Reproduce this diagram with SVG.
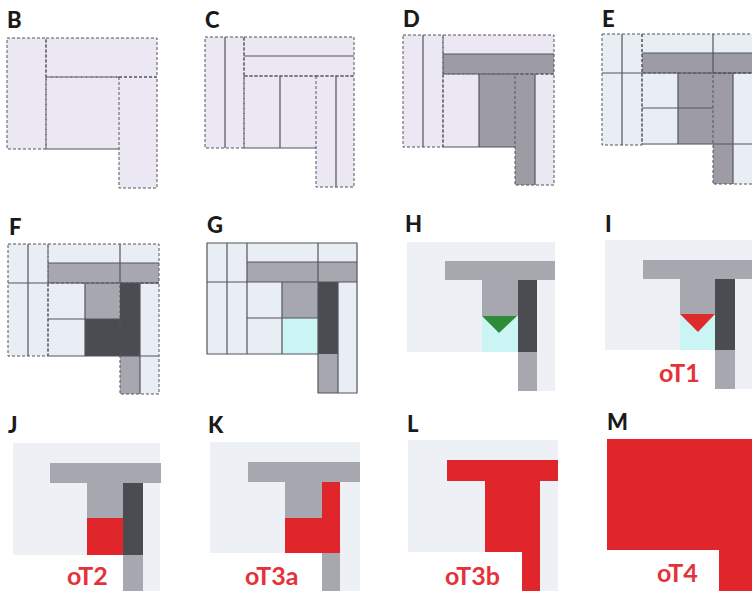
<svg xmlns="http://www.w3.org/2000/svg" width="752" height="591" viewBox="0 0 752 591">
<defs>
<style>
.lbl{font-family:Lato,"Open Sans","Liberation Sans",sans-serif;font-weight:900;font-size:22px;fill:#1a1a1a}
.red{font-family:Lato,"Open Sans","Liberation Sans",sans-serif;font-weight:700;font-size:25px;fill:#e5323a}
.bgp{fill:#ebe8f3}
.bgb{fill:#e9eef4}
.bgl{fill:#edf1f6}
.g{fill:#9d9ca4}
.g2{fill:#a7a7af}
.dk{fill:#4b4b52}
.cy{fill:#cbf5f5}
.rd{fill:#e0262b}
.d{fill:none;stroke:#55555c;stroke-width:1;stroke-dasharray:3 2}
.s{fill:none;stroke:#55555c;stroke-width:1.2}
</style>
</defs>
<rect width="752" height="591" fill="#ffffff"/>

<g id="panelB">
<text class="lbl" x="7" y="28">B</text>
<rect class="bgp" x="7" y="38" width="150" height="111"/>
<rect class="bgp" x="119" y="77" width="38" height="111"/>
<rect class="d" x="7" y="38" width="39" height="111"/>
<rect class="d" x="46" y="38" width="111" height="39"/>
<path class="d" d="M46,77 V149 M46,77 H119"/>
<path class="s" d="M46,149 H119"/>
<rect class="d" x="119" y="77" width="38" height="111"/>
</g>

<g id="panelC">
<text class="lbl" x="205" y="28">C</text>
<rect class="bgp" x="205" y="37" width="149" height="111"/>
<rect class="bgp" x="316" y="76" width="38" height="111"/>
<rect class="d" x="205" y="37" width="39" height="111"/>
<rect class="d" x="244" y="37" width="110" height="39"/>
<path class="d" d="M244,76 V148 M244,76 H316"/>
<rect class="d" x="316" y="76" width="38" height="111"/>
<path class="s" d="M225,37 V148 M244,56 H354 M244,148 H316 M280,76 V148 M336,76 V187"/>
</g>

<g id="panelD">
<text class="lbl" x="403" y="27">D</text>
<rect class="bgp" x="403" y="35" width="151" height="112"/>
<rect class="bgp" x="515" y="74" width="39" height="111"/>
<rect class="g" x="443" y="54" width="111" height="20"/>
<rect class="g" x="479" y="74" width="36" height="73"/>
<rect class="g" x="515" y="74" width="20" height="111"/>
<rect class="d" x="403" y="35" width="40" height="112"/>
<rect class="d" x="443" y="35" width="111" height="39"/>
<path class="d" d="M443,74 V147 M443,74 H515"/>
<rect class="d" x="515" y="74" width="39" height="111"/>
<path class="s" d="M423,35 V147 M443,54 H554 M443,147 H515 M479,74 V147 M535,74 V185"/>
</g>

<g id="panelE">
<text class="lbl" x="602" y="27">E</text>
<rect class="bgb" x="602" y="34" width="152" height="111"/>
<rect class="bgb" x="713" y="73" width="41" height="111"/>
<rect class="g" x="642" y="53" width="112" height="20"/>
<rect class="g" x="678" y="73" width="35" height="71"/>
<rect class="g" x="713" y="73" width="20" height="111"/>
<rect class="d" x="602" y="34" width="40" height="111"/>
<rect class="d" x="642" y="34" width="115" height="39"/>
<path class="d" d="M642,73 V144"/>
<rect class="d" x="713" y="73" width="44" height="111"/>
<path class="s" d="M622,34 V145 M602,73 H752 M642,53 H752 M713,34 V73 M678,73 V144 M642,108 H713 M642,144 H752 M733,73 V184"/>
</g>

<g id="panelF">
<text class="lbl" x="9" y="235">F</text>
<rect class="bgb" x="8" y="244" width="151" height="112"/>
<rect class="bgb" x="120" y="283" width="39" height="111"/>
<rect class="g2" x="48" y="263" width="111" height="20"/>
<rect class="g2" x="85" y="283" width="35" height="36"/>
<rect class="dk" x="85" y="319" width="35" height="37"/>
<rect class="dk" x="120" y="283" width="20" height="73"/>
<rect class="g2" x="120" y="356" width="20" height="38"/>
<rect class="d" x="8" y="244" width="40" height="112"/>
<rect class="d" x="48" y="244" width="111" height="39"/>
<path class="d" d="M48,283 V356"/>
<rect class="d" x="120" y="283" width="39" height="111"/>
<path class="s" d="M28,244 V356 M8,283 H159 M48,263 H159 M120,244 V283 M85,283 V356 M48,319 H120 M48,356 H159 M140,283 V394"/>
</g>

<g id="panelG">
<text class="lbl" x="207" y="233">G</text>
<rect class="bgb" x="207" y="243" width="150" height="111"/>
<rect class="bgb" x="318" y="282" width="39" height="111"/>
<rect class="g2" x="247" y="262" width="110" height="20"/>
<rect class="g2" x="282" y="282" width="36" height="36"/>
<rect class="cy" x="282" y="318" width="36" height="36"/>
<rect class="dk" x="318" y="282" width="20" height="72"/>
<rect class="g2" x="318" y="354" width="20" height="39"/>
<path class="s" d="M207,243 H357 V393 H318 V354 H207 Z M227,243 V354 M247,243 V354 M207,282 H357 M247,262 H357 M318,243 V393 M282,282 V354 M247,318 H318 M338,282 V393"/>
</g>

<g id="panelH">
<text class="lbl" x="405" y="232">H</text>
<rect class="bgl" x="407" y="242" width="148" height="110"/>
<rect class="bgl" x="518" y="352" width="37" height="39"/>
<rect class="g2" x="445" y="261" width="110" height="19"/>
<rect class="g2" x="482" y="280" width="36" height="36"/>
<rect class="cy" x="482" y="316" width="36" height="36"/>
<polygon fill="#2e8b3a" points="482,316 517,316 499,333"/>
<rect class="dk" x="518" y="280" width="19" height="72"/>
<rect class="g2" x="518" y="352" width="19" height="39"/>
</g>

<g id="panelI">
<text class="lbl" x="605" y="232">I</text>
<rect class="bgl" x="605" y="240" width="147" height="110"/>
<rect class="bgl" x="715" y="350" width="37" height="39"/>
<rect class="g2" x="643" y="260" width="109" height="19"/>
<rect class="g2" x="680" y="279" width="35" height="35"/>
<rect class="cy" x="680" y="314" width="35" height="36"/>
<polygon fill="#dd2a2a" points="680,314 715,314 698,332"/>
<rect class="dk" x="715" y="279" width="20" height="71"/>
<rect class="g2" x="715" y="350" width="20" height="39"/>
<text class="red" x="659" y="382">oT1</text>
</g>

<g id="panelJ">
<text class="lbl" x="8" y="433">J</text>
<rect class="bgl" x="13" y="443" width="147" height="112"/>
<rect class="bgl" x="123" y="555" width="37" height="36"/>
<rect class="g2" x="50" y="463" width="111" height="20"/>
<rect class="g2" x="87" y="483" width="36" height="35"/>
<rect class="rd" x="87" y="518" width="36" height="37"/>
<rect class="dk" x="123" y="483" width="20" height="72"/>
<rect class="g2" x="123" y="555" width="20" height="36"/>
<text class="red" x="67" y="585">oT2</text>
</g>

<g id="panelK">
<text class="lbl" x="208" y="433">K</text>
<rect class="bgl" x="210" y="442" width="150" height="111"/>
<rect class="bgl" x="322" y="553" width="38" height="38"/>
<rect class="g2" x="248" y="462" width="112" height="20"/>
<rect class="g2" x="285" y="482" width="37" height="36"/>
<path class="rd" d="M322,482 H340 V553 H285 V518 H322 Z"/>
<rect class="g2" x="322" y="553" width="18" height="38"/>
<text class="red" x="245" y="585">oT3a</text>
</g>

<g id="panelL">
<text class="lbl" x="407" y="432">L</text>
<rect class="bgl" x="408" y="440" width="150" height="112"/>
<rect class="bgl" x="522" y="552" width="36" height="39"/>
<path class="rd" d="M447,460 H558 V481 H540 V591 H522 V552 H485 V481 H447 Z"/>
<text class="red" x="445" y="585">oT3b</text>
</g>

<g id="panelM">
<text class="lbl" x="607" y="430">M</text>
<path class="rd" d="M607,439 H752 V591 H719 V550 H607 Z"/>
<text class="red" x="657" y="582">oT4</text>
</g>
</svg>
